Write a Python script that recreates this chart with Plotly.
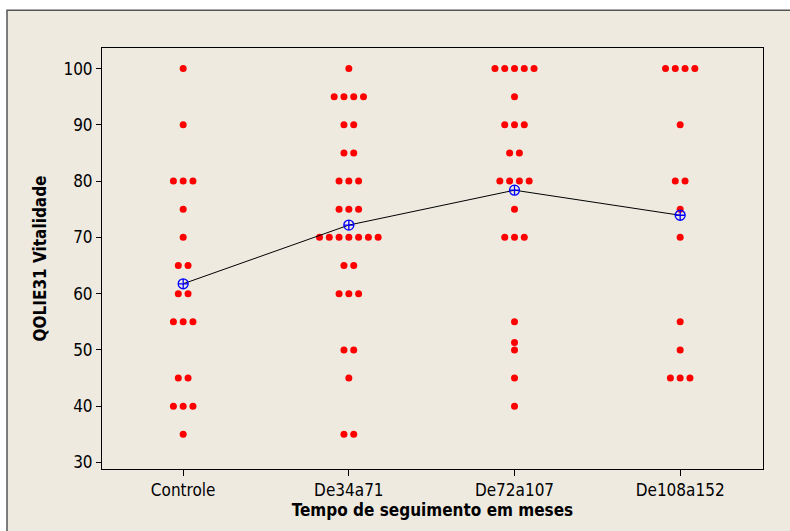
import numpy as np
import plotly.graph_objects as go

categories = ["Controle", "De34a71", "De72a107", "De108a152"]

controle = [100, 90, 80, 80, 80, 75, 70, 65, 65, 60, 60, 55, 55, 55, 45, 45, 40, 40, 40, 35]
de34a71 = [100, 95, 95, 95, 95, 90, 90, 85, 85, 80, 80, 80, 75, 75, 75,
           70, 70, 70, 70, 70, 70, 70, 65, 65, 60, 60, 60, 50, 50, 45, 35, 35]
de72a107 = [100, 100, 100, 100, 100, 95, 90, 90, 90, 85, 85, 80, 80, 80, 80,
            75, 70, 70, 70, 55, 51.3, 50, 45, 40]
de108a152 = [100, 100, 100, 100, 90, 80, 80, 75, 70, 55, 50, 45, 45, 45]

groups = [controle, de34a71, de72a107, de108a152]
yticks = [30, 40, 50, 60, 70, 80, 90, 100]

FONT = "DejaVu Sans Condensed"
STEP = 0.059  # horizontal spacing between stacked dots (category units)

xs, ys = [], []
for gi, vals in enumerate(groups):
    uniq = {}
    for v in vals:
        uniq[v] = uniq.get(v, 0) + 1
    for v, n in uniq.items():
        for i in range(n):
            xs.append(gi + (i - (n - 1) / 2) * STEP)
            ys.append(v)

means = [float(np.mean(g)) for g in groups]

fig = go.Figure()
fig.add_trace(go.Scatter(
    x=xs, y=ys, mode="markers",
    marker=dict(color="#FF0000", size=7, line=dict(width=0)),
    showlegend=False, hoverinfo="skip"))
fig.add_trace(go.Scatter(
    x=list(range(len(categories))), y=means, mode="lines+markers",
    line=dict(color="black", width=1),
    marker=dict(symbol="circle-cross-open", color="#0000FF", size=10,
                line=dict(width=1.3, color="#0000FF")),
    showlegend=False))

# outer panel
fig.add_shape(type="rect", xref="paper", yref="paper",
              x0=(7 - 102) / 661, x1=2, y0=-1, y1=1 + 37.7 / 421.6,
              line=dict(color="#555555", width=1.5),
              fillcolor="#EEEAE0", layer="below")

fig.update_layout(
    width=790, height=531,
    margin=dict(l=102, r=27, t=48, b=62),
    paper_bgcolor="white",
    plot_bgcolor="white",
    font=dict(family=FONT, size=17, color="black"),
    xaxis=dict(
        range=[-0.49, 3.5],
        tickmode="array", tickvals=list(range(len(categories))), ticktext=categories,
        ticks="outside", ticklen=6, tickcolor="black", tickwidth=1,
        showgrid=False, zeroline=False,
        showline=True, linecolor="black", linewidth=1, mirror=True,
        tickfont=dict(family=FONT, size=17),
        title=dict(text="<b>Tempo de seguimento em meses</b>",
                   font=dict(family=FONT, size=17), standoff=4),
    ),
    yaxis=dict(
        range=[28.83, 103.66],
        tickmode="array", tickvals=yticks,
        ticks="outside", ticklen=5, tickcolor="black", tickwidth=1,
        showgrid=False, zeroline=False,
        showline=True, linecolor="black", linewidth=1, mirror=True,
        tickfont=dict(family=FONT, size=17),
        title=dict(text="<b>QOLIE31 Vitalidade</b>",
                   font=dict(family=FONT, size=17), standoff=12),
    ),
)

fig.write_html("out.html")
